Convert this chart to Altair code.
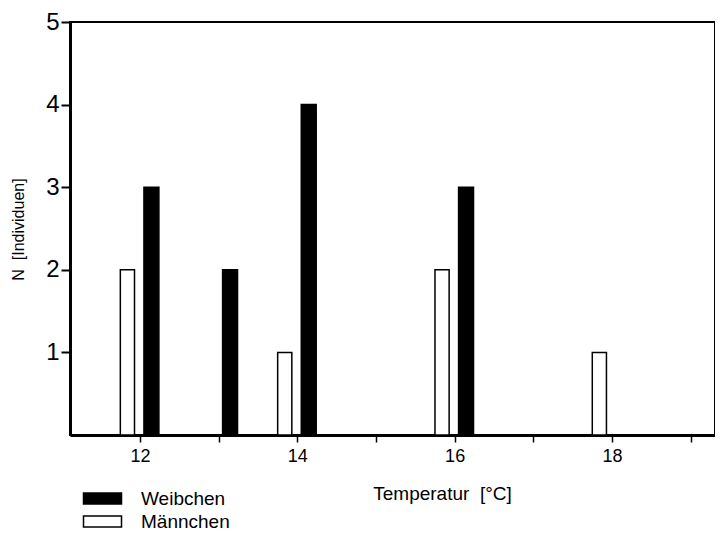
import altair as alt
import pandas as pd

# Data
temps = [12, 13, 14, 16, 18]
weibchen = [3, 2, 4, 3, 0]
maennchen = [2, 0, 1, 2, 1]
sexes = ["Weibchen", "Männchen"]

# bar placement relative to the temperature (in degrees)
offsets = {"Männchen": (-0.25, -0.07), "Weibchen": (0.05, 0.24)}

rows = []
for t, w, m in zip(temps, weibchen, maennchen):
    for sex, n in (("Männchen", m), ("Weibchen", w)):
        if n > 0:
            lo, hi = offsets[sex]
            rows.append({"t0": t + lo, "t1": t + hi, "n": n, "sex": sex})
df = pd.DataFrame(rows)

FONT = "Liberation Sans"
NB = "\u00a0"

bars = alt.Chart(df).mark_bar(stroke="black", strokeWidth=1.5, opacity=1).encode(
    x=alt.X(
        "t0:Q",
        scale=alt.Scale(domain=[11.11, 19.31], nice=False, zero=False),
        axis=alt.Axis(
            values=[12, 13, 14, 15, 16, 17, 18, 19],
            labelExpr="datum.value % 2 == 0 ? datum.label : ''",
            title="Temperatur " + NB + "[°C]",
            grid=False,
            domainColor="black",
            domainWidth=3,
            tickColor="black",
            tickWidth=1.5,
            tickSize=7,
            labelPadding=5,
            labelFontSize=18,
            labelFont=FONT,
            labelColor="black",
            titleFont=FONT,
            titleFontSize=19,
            titleFontWeight="normal",
            titleColor="black",
            titleX=372,
            titleY=49,
        ),
    ),
    x2="t1:Q",
    y=alt.Y(
        "n:Q",
        scale=alt.Scale(domain=[0, 5], nice=False),
        axis=alt.Axis(
            values=[1, 2, 3, 4, 5],
            title="N " + NB + "[Individuen]",
            grid=False,
            domainColor="black",
            domainWidth=3,
            tickColor="black",
            tickWidth=2,
            tickSize=9,
            labelPadding=2,
            labelFontSize=24,
            labelFont=FONT,
            labelColor="black",
            titleFont=FONT,
            titleFontSize=16,
            titleFontWeight="normal",
            titleColor="black",
            titleX=-44,
            titleY=207,
            titleAngle=-90,
            titleAlign="center",
            titleBaseline="bottom",
        ),
    ),
    y2=alt.datum(0),
    fill=alt.Fill(
        "sex:N",
        scale=alt.Scale(domain=sexes, range=["black", "white"]),
        legend=alt.Legend(
            title=None,
            orient="none",
            legendX=22,
            legendY=466,
            direction="vertical",
            symbolType="M-2,-0.58H2V0.58H-2Z",
            symbolSize=361,
            symbolStrokeColor="black",
            symbolStrokeWidth=1.5,
            labelFont=FONT,
            labelFontSize=19,
            labelColor="black",
            labelOffset=28,
            rowPadding=2,
            padding=0,
        ),
    ),
)

chart = bars.properties(
    width=645,
    height=413,
    autosize=alt.AutoSizeParams(type="none"),
    padding={"left": 62, "top": 14, "right": 0, "bottom": 96},
).configure_view(stroke="black", strokeWidth=2)

chart.save("out.html", embed_options={"renderer": "svg", "actions": False})
